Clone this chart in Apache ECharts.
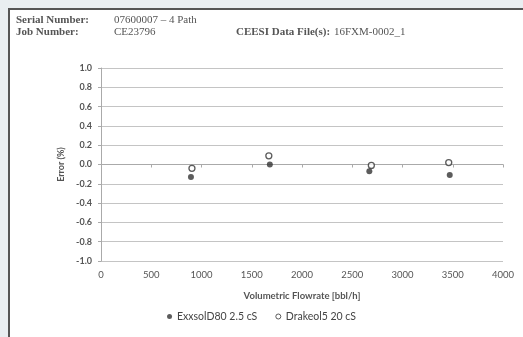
<!DOCTYPE html>
<html>
<head>
<meta charset="utf-8">
<script src="https://cdn.jsdelivr.net/npm/echarts@6/dist/echarts.min.js"></script>
<style>
  html, body { margin: 0; padding: 0; background: #e9eef1; }
  #chart { width: 523px; height: 337px; }
</style>
</head>
<body>
<div id="chart"></div>
<script>
// flowrate [bbl/h] and error [%]
var exxsolFlow = [895, 1680, 2670, 3470];
var exxsolErr = [-0.13, 0.00, -0.07, -0.11];
var drakeolFlow = [905, 1670, 2690, 3460];
var drakeolErr = [-0.04, 0.09, -0.01, 0.02];
var seriesNames = ['ExxsolD80 2.5 cS', 'Drakeol5 20 cS'];

function pairs(xs, ys) {
  return xs.map(function (x, i) { return [x, ys[i]]; });
}

var headFont = '11px "Liberation Serif"';
var headBold = 'bold 11px "Liberation Serif"';

var myChart = echarts.init(document.getElementById('chart'));
var option = {
  backgroundColor: '#e9eef1',
  animation: false,
  graphic: [
    { type: 'rect', left: 8, top: 8, shape: { width: 530, height: 340 },
      style: { fill: '#ffffff', stroke: '#555555', lineWidth: 2 }, z: -10 },
    { type: 'text', left: 16, top: 15, style: { text: 'Serial Number:', font: headBold, fill: '#555' } },
    { type: 'text', left: 16, top: 27, style: { text: 'Job Number:', font: headBold, fill: '#555' } },
    { type: 'text', left: 114, top: 15, style: { text: '07600007 \u2013 4 Path', font: headFont, fill: '#555' } },
    { type: 'text', left: 114, top: 27, style: { text: 'CE23796', font: headFont, fill: '#555' } },
    { type: 'text', left: 236, top: 27, style: { text: 'CEESI Data File(s):', font: headBold, fill: '#555' } },
    { type: 'text', left: 334, top: 27, style: { text: '16FXM-0002_1', font: headFont, fill: '#555' } }
  ],
  grid: { left: 101, right: 20, top: 68, bottom: 76 },
  legend: {
    bottom: 10,
    left: 'center',
    itemWidth: 5,
    itemHeight: 5,
    itemGap: 18,
    textStyle: { fontFamily: 'Lato', fontSize: 10.5, color: '#444' },
    data: [
      { name: seriesNames[0], icon: 'circle' },
      { name: seriesNames[1], icon: 'circle', itemStyle: { color: '#ffffff', borderColor: '#333333', borderWidth: 1 } }
    ]
  },
  xAxis: {
    type: 'value',
    min: 0,
    max: 4000,
    interval: 500,
    name: 'Volumetric Flowrate [bbl/h]',
    nameLocation: 'middle',
    nameGap: 30,
    nameTextStyle: { fontFamily: 'Lato', fontSize: 9.5, fontWeight: 'bold', color: '#555' },
    axisLine: { show: true, lineStyle: { color: '#aaaaaa' } },
    axisTick: { show: true, length: 3, lineStyle: { color: '#aaaaaa' } },
    axisLabel: {
      margin: 9, fontFamily: 'Lato', fontSize: 9.5, color: '#555',
      formatter: function (v) { return String(v); }
    },
    splitLine: { show: false }
  },
  yAxis: {
    type: 'value',
    min: -1,
    max: 1,
    interval: 0.2,
    name: 'Error (%)',
    nameLocation: 'middle',
    nameGap: 33,
    nameTextStyle: { fontFamily: 'Lato', fontSize: 9, fontWeight: 'bold', color: '#555' },
    axisLine: { show: true, lineStyle: { color: '#aaaaaa' } },
    axisTick: { show: true, length: 3, lineStyle: { color: '#aaaaaa' } },
    axisLabel: {
      margin: 9, fontFamily: 'Lato', fontSize: 9, fontWeight: 'bold', color: '#555',
      formatter: function (v) { return v.toFixed(1); }
    },
    splitLine: { show: true, lineStyle: { color: '#c4c4c4', width: 1 } }
  },
  series: [
    {
      name: seriesNames[0],
      type: 'scatter',
      symbol: 'circle',
      symbolSize: 6,
      itemStyle: { color: '#333333' },
      data: pairs(exxsolFlow, exxsolErr)
    },
    {
      name: seriesNames[1],
      type: 'scatter',
      symbol: 'circle',
      symbolSize: 6,
      itemStyle: { color: '#ffffff', borderColor: '#333333', borderWidth: 1.3 },
      data: pairs(drakeolFlow, drakeolErr)
    }
  ]
};
myChart.setOption(option);
</script>
</body>
</html>
